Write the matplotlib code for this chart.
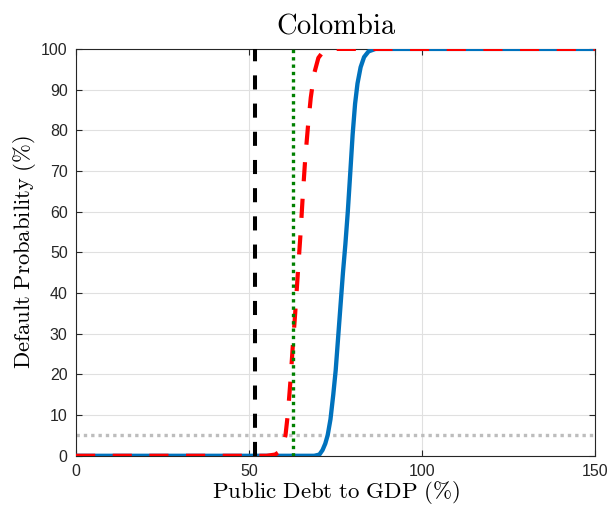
import numpy as np
import matplotlib.pyplot as plt

plt.rcParams['mathtext.fontset'] = 'cm'
plt.rcParams['font.family'] = ['Liberation Sans', 'DejaVu Sans']

# default probability curves (debt/GDP in %, probability in %)
debt_blue = [0, 68.8, 70.3, 71.2, 72.0, 72.7, 73.5, 74.3, 75.0, 75.7, 76.4, 77.1, 77.8,
             78.5, 79.2, 79.9, 80.6, 81.3, 82.2, 83.2, 84.5, 86.5, 150]
prob_blue = [0, 0, 0.3, 1.4, 3.0, 5.1, 9.0, 15.0, 21.0, 29.0, 37.0, 45.0, 52.0,
             60.0, 69.4, 79.0, 86.5, 91.5, 95.5, 98.0, 99.4, 100, 100]

debt_red = [0, 55, 57.5, 58.6, 59.6, 60.5, 61.2, 61.9, 62.6, 63.3, 64.0, 64.8, 65.5,
            66.2, 67.0, 67.8, 68.8, 70.0, 71.5, 73.0, 150]
prob_red = [0, 0, 0.3, 0.9, 2.2, 5.0, 10.4, 18.0, 26.8, 35.0, 44.0, 54.0, 64.0,
            73.0, 81.0, 88.0, 94.0, 97.8, 99.5, 100, 100]

debt_now = 51.75
debt_threshold = 62.8
prob_cutoff = 5

fig = plt.figure(figsize=(6.11, 5.07), dpi=100)
ax = fig.add_axes([0.1244, 0.101, 0.850, 0.8025])

ax.plot(debt_blue, prob_blue, color=(0, 0.447, 0.741), lw=3.1, zorder=3)
ax.plot(debt_red, prob_red, color='red', lw=3.0, ls='--', dashes=(4.6, 4.2), zorder=4)
ax.axvline(debt_now, color='black', lw=2.9, ls='--', dashes=(3.5, 3.5), zorder=5)
ax.axvline(debt_threshold, color=(0, 0.5, 0), lw=2.4, ls=':', dashes=(1.0, 1.2), zorder=5)
ax.axhline(prob_cutoff, color=(0.74, 0.74, 0.74), lw=2.4, ls=':', dashes=(1.0, 1.2), zorder=2)

ax.set_xlim(0, 150)
ax.set_ylim(0, 100)
ax.set_xticks([0, 50, 100, 150])
ax.set_yticks(np.arange(0, 101, 10))
ax.grid(True, color=(0.88, 0.88, 0.88), lw=0.8)
ax.set_axisbelow(True)
ax.tick_params(direction='in', length=4, width=0.8, color=(0.15, 0.15, 0.15), pad=6,
               labelsize=11.5, labelcolor=(0.15, 0.15, 0.15), top=True, right=True)
for s in ax.spines.values():
    s.set_color((0.15, 0.15, 0.15))
    s.set_linewidth(0.8)

ax.set_title(r'$\mathrm{Colombia}$', fontsize=20.5, pad=11)
ax.set_xlabel(r'$\mathrm{Public\ Debt\ to\ GDP\ (\%)}$', fontsize=16.5, labelpad=0)
ax.set_ylabel(r'$\mathrm{Default\ Probability\ (\%)}$', fontsize=16.3, labelpad=2)

fig.savefig('out.png', dpi=100)
